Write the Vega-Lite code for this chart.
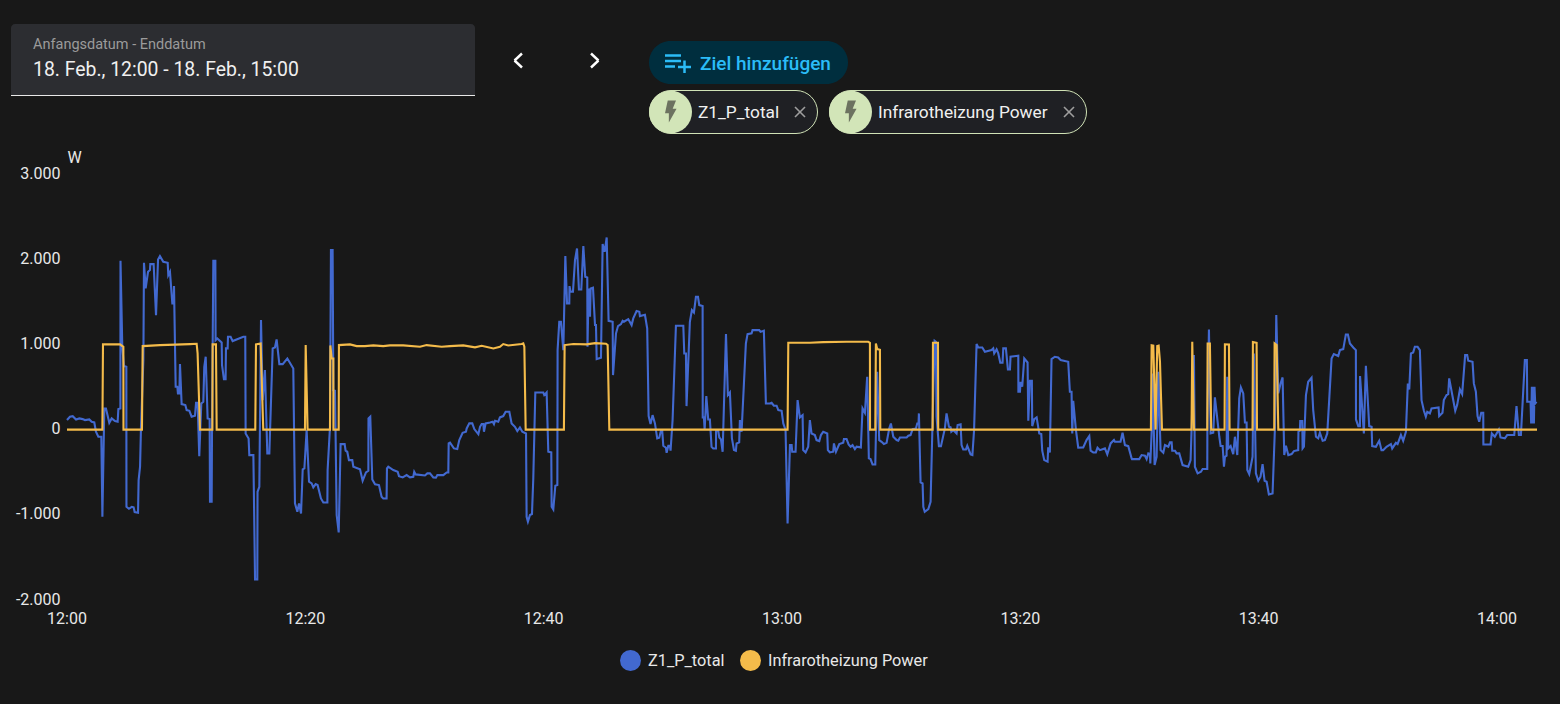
{"$schema":"https://vega.github.io/schema/vega-lite/v6.json","width":1470,"height":426,"autosize":"none","padding":{"left":67,"top":174,"right":23,"bottom":104},"background":"#181818","config":{"view":{"stroke":null},"font":"Roboto"},
"datasets":{
"z1":[{"t":0,"w":112},{"t":0.25,"w":151},{"t":0.48,"w":158},{"t":0.76,"w":119},{"t":1.04,"w":131},{"t":1.31,"w":123},{"t":1.51,"w":112},{"t":1.87,"w":119},{"t":2.07,"w":92},{"t":2.29,"w":84},{"t":2.43,"w":-25},{"t":2.63,"w":-84},{"t":2.88,"w":-84},{"t":2.97,"w":-1023},{"t":3.13,"w":248},{"t":3.27,"w":248},{"t":3.55,"w":80},{"t":3.75,"w":131},{"t":4.03,"w":100},{"t":4.25,"w":92},{"t":4.31,"w":241},{"t":4.48,"w":248},{"t":4.49,"w":1981},{"t":4.64,"w":972},{"t":4.78,"w":745},{"t":4.98,"w":737},{"t":4.99,"w":-906},{"t":5.2,"w":-929},{"t":5.43,"w":-906},{"t":5.59,"w":-913},{"t":5.68,"w":-968},{"t":5.96,"w":-976},{"t":6.01,"w":-593},{"t":6.13,"w":-436},{"t":6.21,"w":33},{"t":6.41,"w":816},{"t":6.46,"w":1958},{"t":6.6,"w":1657},{"t":6.8,"w":1852},{"t":6.96,"w":1872},{"t":6.99,"w":1942},{"t":7.27,"w":1942},{"t":7.47,"w":1344},{"t":7.64,"w":1997},{"t":7.8,"w":2036},{"t":8.08,"w":1970},{"t":8.45,"w":1958},{"t":8.5,"w":1813},{"t":8.64,"w":1852},{"t":8.84,"w":1481},{"t":8.95,"w":1481},{"t":8.98,"w":1684},{"t":9.12,"w":503},{"t":9.26,"w":503},{"t":9.31,"w":425},{"t":9.43,"w":425},{"t":9.48,"w":769},{"t":9.62,"w":299},{"t":9.93,"w":288},{"t":10.04,"w":229},{"t":10.27,"w":221},{"t":10.46,"w":151},{"t":10.74,"w":162},{"t":10.83,"w":315},{"t":10.96,"w":315},{"t":11.1,"w":-311},{"t":11.27,"w":307},{"t":11.44,"w":327},{"t":11.52,"w":737},{"t":11.64,"w":855},{"t":11.8,"w":131},{"t":11.97,"w":123},{"t":12,"w":-847},{"t":12.14,"w":-847},{"t":12.17,"w":33},{"t":12.28,"w":1981},{"t":12.45,"w":1981},{"t":12.47,"w":1050},{"t":12.61,"w":1070},{"t":12.98,"w":1023},{"t":13.01,"w":757},{"t":13.17,"w":593},{"t":13.31,"w":593},{"t":13.34,"w":953},{"t":13.48,"w":953},{"t":13.51,"w":1089},{"t":13.73,"w":1089},{"t":13.9,"w":1039},{"t":14.8,"w":1089},{"t":14.96,"w":1089},{"t":14.99,"w":-45},{"t":15.24,"w":-104},{"t":15.3,"w":-299},{"t":15.64,"w":-299},{"t":15.78,"w":-1758},{"t":15.97,"w":-1758},{"t":15.99,"w":-730},{"t":16.14,"w":-671},{"t":16.28,"w":1285},{"t":16.42,"w":346},{"t":16.61,"w":698},{"t":16.81,"w":-280},{"t":16.98,"w":-280},{"t":17.26,"w":953},{"t":17.45,"w":964},{"t":17.59,"w":1058},{"t":17.82,"w":769},{"t":18.1,"w":769},{"t":18.49,"w":835},{"t":18.99,"w":718},{"t":19.13,"w":-866},{"t":19.33,"w":-964},{"t":19.47,"w":-866},{"t":19.64,"w":-984},{"t":19.78,"w":-467},{"t":19.92,"w":-456},{"t":20.11,"w":-6},{"t":20.31,"w":-612},{"t":20.53,"w":-632},{"t":20.67,"w":-679},{"t":20.87,"w":-640},{"t":21.03,"w":-651},{"t":21.31,"w":-808},{"t":21.51,"w":-855},{"t":21.85,"w":-855},{"t":21.87,"w":-475},{"t":22.07,"w":33},{"t":22.15,"w":2107},{"t":22.29,"w":2107},{"t":22.35,"w":463},{"t":22.49,"w":456},{"t":22.63,"w":-1003},{"t":22.8,"w":-1207},{"t":22.96,"w":-170},{"t":23.3,"w":-170},{"t":23.38,"w":-248},{"t":23.52,"w":-260},{"t":23.66,"w":-358},{"t":23.94,"w":-358},{"t":24.03,"w":-436},{"t":24.59,"w":-467},{"t":24.81,"w":-600},{"t":25.09,"w":-503},{"t":25.29,"w":-483},{"t":25.3,"w":131},{"t":25.45,"w":151},{"t":25.62,"w":-585},{"t":25.85,"w":-643},{"t":26.18,"w":-651},{"t":26.4,"w":-788},{"t":26.54,"w":-808},{"t":26.82,"w":-808},{"t":26.85,"w":-456},{"t":26.96,"w":-436},{"t":27.38,"w":-475},{"t":27.75,"w":-495},{"t":27.86,"w":-546},{"t":28.17,"w":-561},{"t":28.5,"w":-534},{"t":28.78,"w":-561},{"t":29.06,"w":-554},{"t":29.14,"w":-495},{"t":29.26,"w":-526},{"t":30.04,"w":-538},{"t":30.24,"w":-514},{"t":30.46,"w":-514},{"t":30.74,"w":-561},{"t":30.96,"w":-565},{"t":31.08,"w":-534},{"t":31.58,"w":-534},{"t":31.86,"w":-503},{"t":32,"w":-503},{"t":32.03,"w":-162},{"t":32.14,"w":-154},{"t":32.47,"w":-221},{"t":32.75,"w":-229},{"t":32.92,"w":-123},{"t":33.2,"w":-37},{"t":33.48,"w":-25},{"t":33.54,"w":14},{"t":33.76,"w":73},{"t":34.01,"w":73},{"t":34.18,"w":6},{"t":34.52,"w":-53},{"t":34.66,"w":33},{"t":34.8,"w":65},{"t":34.94,"w":65},{"t":34.99,"w":-25},{"t":35.13,"w":73},{"t":35.5,"w":84},{"t":35.72,"w":92},{"t":35.83,"w":65},{"t":35.92,"w":104},{"t":36.19,"w":92},{"t":36.33,"w":143},{"t":36.61,"w":159},{"t":36.81,"w":209},{"t":37.12,"w":209},{"t":37.31,"w":73},{"t":37.59,"w":33},{"t":37.79,"w":-17},{"t":38.01,"w":26},{"t":38.21,"w":-25},{"t":38.52,"w":-45},{"t":38.57,"w":-1023},{"t":38.68,"w":-1081},{"t":38.85,"w":-1003},{"t":39.02,"w":-991},{"t":39.13,"w":-573},{"t":39.3,"w":436},{"t":39.97,"w":436},{"t":40.05,"w":405},{"t":40.25,"w":436},{"t":40.39,"w":-260},{"t":40.64,"w":-268},{"t":40.67,"w":-905},{"t":40.81,"w":-937},{"t":40.98,"w":-659},{"t":41.15,"w":-651},{"t":41.17,"w":933},{"t":41.31,"w":1266},{"t":41.45,"w":1266},{"t":41.65,"w":933},{"t":41.82,"w":2036},{"t":41.96,"w":1481},{"t":42.15,"w":1481},{"t":42.17,"w":1684},{"t":42.26,"w":1618},{"t":42.46,"w":1618},{"t":42.63,"w":1989},{"t":42.8,"w":2126},{"t":42.96,"w":1645},{"t":43.16,"w":1645},{"t":43.33,"w":2154},{"t":43.49,"w":1794},{"t":43.66,"w":1786},{"t":43.68,"w":972},{"t":43.77,"w":1657},{"t":43.89,"w":1324},{"t":43.94,"w":1657},{"t":44.14,"w":1665},{"t":44.31,"w":1227},{"t":44.39,"w":1227},{"t":44.45,"w":828},{"t":44.81,"w":843},{"t":44.95,"w":2177},{"t":45.12,"w":2087},{"t":45.29,"w":2255},{"t":45.45,"w":1277},{"t":45.79,"w":1266},{"t":45.82,"w":640},{"t":46.07,"w":1129},{"t":46.24,"w":1215},{"t":46.49,"w":1238},{"t":46.63,"w":1277},{"t":46.74,"w":1266},{"t":47.1,"w":1297},{"t":47.38,"w":1227},{"t":47.52,"w":1305},{"t":47.8,"w":1391},{"t":48.03,"w":1383},{"t":48.08,"w":1332},{"t":48.5,"w":1348},{"t":48.69,"w":1187},{"t":48.81,"w":159},{"t":48.97,"w":65},{"t":49.14,"w":170},{"t":49.34,"w":72},{"t":49.53,"w":-104},{"t":49.7,"w":-96},{"t":49.84,"w":-13},{"t":49.95,"w":-13},{"t":50.04,"w":-190},{"t":50.26,"w":-213},{"t":50.32,"w":-272},{"t":50.46,"w":-190},{"t":50.6,"w":-190},{"t":50.65,"w":-248},{"t":50.82,"w":112},{"t":51.1,"w":1219},{"t":51.72,"w":1219},{"t":51.8,"w":894},{"t":51.94,"w":894},{"t":51.99,"w":276},{"t":52.27,"w":1266},{"t":52.44,"w":1403},{"t":52.61,"w":1375},{"t":52.78,"w":1559},{"t":52.95,"w":1559},{"t":53.06,"w":1461},{"t":53.34,"w":1450},{"t":53.35,"w":143},{"t":53.45,"w":143},{"t":53.51,"w":-5},{"t":53.65,"w":393},{"t":53.81,"w":119},{"t":53.95,"w":119},{"t":54.09,"w":-201},{"t":54.23,"w":-221},{"t":54.46,"w":-221},{"t":54.47,"w":-13},{"t":54.65,"w":-13},{"t":54.74,"w":-92},{"t":54.88,"w":-115},{"t":55.02,"w":-260},{"t":55.3,"w":1121},{"t":55.46,"w":405},{"t":55.63,"w":436},{"t":55.8,"w":-104},{"t":55.97,"w":-240},{"t":56.13,"w":-248},{"t":56.19,"w":-162},{"t":56.41,"w":-150},{"t":56.47,"w":112},{"t":56.61,"w":-25},{"t":56.97,"w":1011},{"t":57.11,"w":1121},{"t":57.45,"w":1129},{"t":57.53,"w":1168},{"t":58.09,"w":1168},{"t":58.2,"w":1148},{"t":58.48,"w":1160},{"t":58.65,"w":307},{"t":58.99,"w":307},{"t":59.13,"w":315},{"t":59.32,"w":280},{"t":59.55,"w":280},{"t":59.69,"w":229},{"t":59.97,"w":221},{"t":60.11,"w":72},{"t":60.3,"w":-5},{"t":60.47,"w":-1101},{"t":60.67,"w":-182},{"t":60.81,"w":-182},{"t":60.86,"w":-260},{"t":61.14,"w":-260},{"t":61.31,"w":346},{"t":61.5,"w":143},{"t":61.73,"w":170},{"t":61.78,"w":-240},{"t":61.98,"w":-268},{"t":62.2,"w":-201},{"t":62.34,"w":112},{"t":62.48,"w":-45},{"t":62.76,"w":-64},{"t":62.9,"w":-123},{"t":63.13,"w":-135},{"t":63.27,"w":-64},{"t":63.46,"w":-25},{"t":63.8,"w":-45},{"t":63.85,"w":-240},{"t":64.02,"w":-268},{"t":64.3,"w":-260},{"t":64.36,"w":-162},{"t":64.53,"w":-260},{"t":64.81,"w":-170},{"t":65.14,"w":-154},{"t":65.2,"w":-111},{"t":65.42,"w":-111},{"t":65.59,"w":-174},{"t":65.76,"w":-201},{"t":65.92,"w":-182},{"t":66.12,"w":-229},{"t":66.26,"w":-201},{"t":66.62,"w":-209},{"t":66.76,"w":249},{"t":66.96,"w":198},{"t":67.15,"w":620},{"t":67.29,"w":-338},{"t":67.43,"w":-346},{"t":67.6,"w":-409},{"t":67.83,"w":-409},{"t":67.99,"w":679},{"t":68.16,"w":-123},{"t":68.36,"w":-143},{"t":68.55,"w":-170},{"t":68.78,"w":-154},{"t":69,"w":14},{"t":69.14,"w":72},{"t":69.34,"w":-84},{"t":69.62,"w":-123},{"t":69.76,"w":-131},{"t":69.9,"w":-92},{"t":70.46,"w":-92},{"t":70.6,"w":-72},{"t":70.79,"w":-64},{"t":70.96,"w":6},{"t":71.24,"w":14},{"t":71.35,"w":72},{"t":71.46,"w":72},{"t":71.49,"w":190},{"t":71.63,"w":-620},{"t":71.8,"w":-632},{"t":71.86,"w":-906},{"t":71.98,"w":-964},{"t":72.28,"w":-933},{"t":72.47,"w":-847},{"t":72.64,"w":112},{"t":72.81,"w":1043},{"t":72.92,"w":1031},{"t":72.97,"w":151},{"t":73.17,"w":-194},{"t":73.34,"w":-194},{"t":73.67,"w":14},{"t":73.81,"w":190},{"t":74.01,"w":33},{"t":74.15,"w":26},{"t":74.21,"w":-25},{"t":74.37,"w":-6},{"t":74.65,"w":-45},{"t":74.74,"w":53},{"t":74.99,"w":61},{"t":75.07,"w":-182},{"t":75.21,"w":-233},{"t":75.44,"w":-233},{"t":75.55,"w":-190},{"t":75.83,"w":-291},{"t":75.98,"w":-299},{"t":76.12,"w":-6},{"t":76.33,"w":1004},{"t":76.47,"w":964},{"t":76.81,"w":964},{"t":77.03,"w":914},{"t":77.59,"w":933},{"t":77.73,"w":953},{"t":77.81,"w":894},{"t":78.01,"w":941},{"t":78.15,"w":894},{"t":78.32,"w":784},{"t":78.51,"w":784},{"t":78.57,"w":953},{"t":78.79,"w":953},{"t":78.96,"w":706},{"t":79.13,"w":706},{"t":79.18,"w":855},{"t":79.83,"w":867},{"t":79.84,"w":444},{"t":79.97,"w":444},{"t":80.02,"w":562},{"t":80.16,"w":503},{"t":80.33,"w":835},{"t":80.61,"w":788},{"t":80.67,"w":104},{"t":80.81,"w":573},{"t":80.97,"w":573},{"t":81,"w":41},{"t":81.17,"w":123},{"t":81.37,"w":143},{"t":81.59,"w":-45},{"t":81.76,"w":-53},{"t":81.84,"w":-248},{"t":82.01,"w":-358},{"t":82.29,"w":-377},{"t":82.34,"w":-209},{"t":82.48,"w":-268},{"t":82.62,"w":827},{"t":82.9,"w":855},{"t":83.18,"w":847},{"t":83.38,"w":816},{"t":84.02,"w":796},{"t":84.16,"w":444},{"t":84.3,"w":444},{"t":84.36,"w":-45},{"t":84.44,"w":338},{"t":84.67,"w":-6},{"t":84.86,"w":-213},{"t":85.28,"w":-209},{"t":85.56,"w":-123},{"t":85.79,"w":-76},{"t":85.9,"w":-248},{"t":86.12,"w":-268},{"t":86.34,"w":-268},{"t":86.48,"w":-213},{"t":86.68,"w":-241},{"t":87.1,"w":-221},{"t":87.3,"w":-291},{"t":87.58,"w":-162},{"t":87.86,"w":-123},{"t":87.94,"w":-143},{"t":88.41,"w":-143},{"t":88.58,"w":-37},{"t":88.78,"w":-182},{"t":89.06,"w":-194},{"t":89.34,"w":-338},{"t":89.37,"w":-346},{"t":89.98,"w":-346},{"t":90.18,"w":-299},{"t":90.46,"w":-307},{"t":90.6,"w":-346},{"t":90.74,"w":-279},{"t":90.88,"w":-287},{"t":90.91,"w":-397},{"t":91.05,"w":72},{"t":91.1,"w":659},{"t":91.27,"w":-416},{"t":91.44,"w":-319},{"t":91.58,"w":679},{"t":91.77,"w":-240},{"t":92,"w":-272},{"t":92.14,"w":-182},{"t":92.42,"w":-201},{"t":92.56,"w":-150},{"t":92.7,"w":-150},{"t":92.75,"w":-248},{"t":92.98,"w":-248},{"t":93.12,"w":-279},{"t":93.34,"w":-279},{"t":93.62,"w":-416},{"t":94.09,"w":-436},{"t":94.29,"w":-358},{"t":94.37,"w":-5},{"t":94.57,"w":875},{"t":94.65,"w":-436},{"t":94.88,"w":-514},{"t":95.16,"w":-495},{"t":95.3,"w":-463},{"t":95.69,"w":-463},{"t":95.7,"w":112},{"t":95.83,"w":1176},{"t":95.97,"w":-45},{"t":96.19,"w":-37},{"t":96.33,"w":378},{"t":96.7,"w":-84},{"t":96.81,"w":-193},{"t":96.98,"w":-193},{"t":97.09,"w":-436},{"t":97.17,"w":-319},{"t":97.31,"w":-307},{"t":97.37,"w":620},{"t":97.45,"w":-221},{"t":97.65,"w":-193},{"t":97.87,"w":-287},{"t":98.01,"w":-84},{"t":98.21,"w":-299},{"t":98.37,"w":366},{"t":98.51,"w":495},{"t":98.71,"w":425},{"t":98.85,"w":84},{"t":98.99,"w":84},{"t":99.05,"w":-475},{"t":99.21,"w":-522},{"t":99.33,"w":-436},{"t":99.49,"w":-319},{"t":99.6,"w":894},{"t":99.77,"w":-514},{"t":99.97,"w":-600},{"t":100.16,"w":-553},{"t":100.33,"w":-405},{"t":100.5,"w":-600},{"t":100.67,"w":-612},{"t":100.86,"w":-761},{"t":101.17,"w":-749},{"t":101.37,"w":33},{"t":101.48,"w":1344},{"t":101.65,"w":425},{"t":101.84,"w":542},{"t":102.01,"w":612},{"t":102.15,"w":-299},{"t":102.29,"w":-190},{"t":102.49,"w":-299},{"t":102.77,"w":-287},{"t":102.96,"w":-252},{"t":103.32,"w":-240},{"t":103.34,"w":-25},{"t":103.46,"w":-14},{"t":103.49,"w":100},{"t":103.66,"w":100},{"t":103.69,"w":-221},{"t":103.8,"w":-201},{"t":103.97,"w":405},{"t":104.16,"w":562},{"t":104.44,"w":608},{"t":104.58,"w":229},{"t":104.81,"w":-84},{"t":105,"w":-103},{"t":105.14,"w":-37},{"t":105.37,"w":-131},{"t":105.56,"w":-123},{"t":105.76,"w":-45},{"t":106.12,"w":835},{"t":106.31,"w":886},{"t":106.68,"w":863},{"t":106.82,"w":933},{"t":107.1,"w":945},{"t":107.32,"w":1117},{"t":107.49,"w":1117},{"t":107.66,"w":1011},{"t":107.94,"w":964},{"t":108.16,"w":933},{"t":108.17,"w":119},{"t":108.36,"w":41},{"t":108.5,"w":41},{"t":108.51,"w":628},{"t":108.83,"w":-45},{"t":109,"w":749},{"t":109.28,"w":41},{"t":109.48,"w":33},{"t":109.53,"w":-194},{"t":109.84,"w":-201},{"t":110.12,"w":-131},{"t":110.31,"w":-241},{"t":110.45,"w":-241},{"t":110.73,"w":-201},{"t":111.1,"w":-170},{"t":111.21,"w":-221},{"t":111.52,"w":-155},{"t":111.66,"w":-170},{"t":111.94,"w":-64},{"t":112.13,"w":-131},{"t":112.36,"w":-25},{"t":112.52,"w":542},{"t":112.64,"w":471},{"t":112.78,"w":894},{"t":112.97,"w":906},{"t":113.11,"w":972},{"t":113.34,"w":972},{"t":113.53,"w":933},{"t":113.67,"w":346},{"t":113.87,"w":221},{"t":114.03,"w":151},{"t":114.15,"w":209},{"t":114.37,"w":190},{"t":114.51,"w":249},{"t":115.1,"w":260},{"t":115.15,"w":159},{"t":115.43,"w":198},{"t":115.54,"w":346},{"t":115.77,"w":405},{"t":115.91,"w":417},{"t":115.99,"w":601},{"t":116.5,"w":221},{"t":116.66,"w":288},{"t":116.89,"w":471},{"t":117.08,"w":417},{"t":117.33,"w":874},{"t":117.5,"w":874},{"t":117.59,"w":808},{"t":117.95,"w":796},{"t":118.06,"w":542},{"t":118.23,"w":444},{"t":118.37,"w":159},{"t":118.51,"w":92},{"t":118.68,"w":198},{"t":118.85,"w":198},{"t":118.86,"w":-174},{"t":119.46,"w":-174},{"t":119.57,"w":-45},{"t":119.82,"w":-84},{"t":120.16,"w":2},{"t":120.3,"w":-92},{"t":120.66,"w":-103},{"t":120.86,"w":-64},{"t":121.45,"w":-64},{"t":121.64,"w":276},{"t":121.84,"w":-64},{"t":122.01,"w":-64},{"t":122.34,"w":816},{"t":122.51,"w":816},{"t":122.54,"w":327},{"t":122.82,"w":327},{"t":122.87,"w":72},{"t":122.93,"w":503},{"t":122.98,"w":72},{"t":123.04,"w":503},{"t":123.1,"w":72},{"t":123.15,"w":503},{"t":123.21,"w":307},{"t":123.32,"w":327}],
"infra":[{"t":0,"w":0},{"t":2.97,"w":0},{"t":3.02,"w":1000},{"t":4.45,"w":1000},{"t":4.73,"w":972},{"t":4.74,"w":0},{"t":6.29,"w":0},{"t":6.35,"w":980},{"t":7.8,"w":992},{"t":10.32,"w":1003},{"t":10.88,"w":1007},{"t":10.96,"w":894},{"t":11.16,"w":0},{"t":12.2,"w":0},{"t":12.22,"w":1000},{"t":12.5,"w":1000},{"t":12.56,"w":0},{"t":15.8,"w":0},{"t":15.86,"w":1000},{"t":16.25,"w":1011},{"t":16.47,"w":0},{"t":19.97,"w":0},{"t":20.03,"w":992},{"t":20.19,"w":0},{"t":22.07,"w":0},{"t":22.1,"w":988},{"t":22.21,"w":835},{"t":22.35,"w":835},{"t":22.36,"w":0},{"t":22.8,"w":0},{"t":22.82,"w":992},{"t":23.75,"w":1000},{"t":24.31,"w":980},{"t":25,"w":980},{"t":25.71,"w":988},{"t":26.54,"w":980},{"t":27.1,"w":988},{"t":28.22,"w":988},{"t":29.62,"w":972},{"t":30.18,"w":992},{"t":31.44,"w":972},{"t":32.14,"w":980},{"t":33.26,"w":988},{"t":34.24,"w":965},{"t":34.8,"w":984},{"t":35.78,"w":953},{"t":36.33,"w":972},{"t":36.61,"w":1004},{"t":37.03,"w":988},{"t":38.15,"w":1004},{"t":38.29,"w":1011},{"t":38.38,"w":972},{"t":38.49,"w":0},{"t":41.7,"w":0},{"t":41.76,"w":992},{"t":42.49,"w":1004},{"t":43.61,"w":1000},{"t":44.31,"w":1015},{"t":45.23,"w":1008},{"t":45.37,"w":992},{"t":45.51,"w":0},{"t":60.47,"w":0},{"t":60.53,"w":1019},{"t":62.34,"w":1019},{"t":63.46,"w":1027},{"t":65.42,"w":1031},{"t":67.24,"w":1031},{"t":67.38,"w":1019},{"t":67.39,"w":0},{"t":67.83,"w":0},{"t":67.88,"w":1011},{"t":67.99,"w":945},{"t":68.22,"w":937},{"t":68.25,"w":0},{"t":72.64,"w":0},{"t":72.67,"w":1019},{"t":73.09,"w":1019},{"t":73.11,"w":0},{"t":90.96,"w":0},{"t":91.02,"w":990},{"t":91.16,"w":985},{"t":91.35,"w":0},{"t":91.49,"w":980},{"t":91.61,"w":985},{"t":91.72,"w":800},{"t":91.89,"w":0},{"t":94.37,"w":0},{"t":94.43,"w":1031},{"t":94.57,"w":0},{"t":95.69,"w":0},{"t":95.72,"w":1011},{"t":95.91,"w":1011},{"t":96.02,"w":0},{"t":97.14,"w":0},{"t":97.17,"w":1002},{"t":97.51,"w":1000},{"t":97.56,"w":0},{"t":99.49,"w":0},{"t":99.52,"w":1027},{"t":99.83,"w":1019},{"t":99.86,"w":0},{"t":101.31,"w":0},{"t":101.34,"w":1011},{"t":101.51,"w":992},{"t":101.65,"w":0},{"t":123.36,"w":0}]
},
"resolve":{"scale":{"x":"independent","y":"independent"}},
"layer":[
{"encoding":{"x":{"field":"x","type":"quantitative","scale":{"domain":[67,1537],"nice":false,"zero":false},"axis":null},"y":{"field":"y","type":"quantitative","scale":{"domain":[600,174],"nice":false,"zero":false},"axis":null}},
"layer":[
{"data":{"values":[{"x":11,"x2":475,"y":24,"y2":95}]},"mark":{"type":"rect","fill":"#2c2d31","cornerRadiusTopLeft":4,"cornerRadiusTopRight":4},"encoding":{"x2":{"field":"x2"},"y2":{"field":"y2"}}},
{"data":{"values":[{"x":11,"x2":475,"y":95.5,"y2":95.5}]},"mark":{"type":"rule","stroke":"#e8e8e8","strokeWidth":1},"encoding":{"x2":{"field":"x2"},"y2":{"field":"y2"}}},
{"data":{"values":[{"x":649,"x2":848,"y":41,"y2":84}]},"mark":{"type":"rect","fill":"#002e3e","cornerRadius":21.5},"encoding":{"x2":{"field":"x2"},"y2":{"field":"y2"}}},
{"data":{"values":[{"x":649.5,"x2":817.5,"y":90.5,"y2":133.5},{"x":829.5,"x2":1086.5,"y":90.5,"y2":133.5}]},"mark":{"type":"rect","fill":"#1f2024","stroke":"#d0e2b6","strokeWidth":1,"cornerRadius":21.5},"encoding":{"x2":{"field":"x2"},"y2":{"field":"y2"}}},
{"data":{"values":[{"x":670.5,"y":112},{"x":850.5,"y":112}]},"mark":{"type":"point","filled":true,"shape":"circle","size":1849,"fill":"#d2e5b8","opacity":1,"strokeWidth":0}},
{"data":{"values":[{"x":670.5,"y":111.5},{"x":850.5,"y":111.5}]},"mark":{"type":"point","filled":true,"shape":"M-0.25,-1 L0.5,-1 L0.2,-0.25 L0.55,-0.25 L-0.15,1 L-0.15,0.15 L-0.5,0.15 Z","size":484,"fill":"#6c7260","opacity":1,"strokeWidth":0}},
{"data":{"values":[{"x":522,"y":53.5,"x2":514.5,"y2":60.5},{"x":514.5,"y":60.5,"x2":522,"y2":67.5},{"x":591,"y":53.5,"x2":598.5,"y2":60.5},{"x":598.5,"y":60.5,"x2":591,"y2":67.5}]},"mark":{"type":"rule","stroke":"#ffffff","strokeWidth":2.4},"encoding":{"x2":{"field":"x2"},"y2":{"field":"y2"}}},
{"data":{"values":[{"x":665,"y":55.5,"x2":681,"y2":55.5},{"x":665,"y":61,"x2":681,"y2":61},{"x":665,"y":66.5,"x2":675,"y2":66.5},{"x":678,"y":67,"x2":691,"y2":67},{"x":684.5,"y":60.5,"x2":684.5,"y2":73}]},"mark":{"type":"rule","stroke":"#2bbcf7","strokeWidth":2.5},"encoding":{"x2":{"field":"x2"},"y2":{"field":"y2"}}},
{"data":{"values":[{"x":795,"y":107,"x2":805,"y2":117},{"x":795,"y":117,"x2":805,"y2":107},{"x":1064,"y":107,"x2":1074,"y2":117},{"x":1064,"y":117,"x2":1074,"y2":107}]},"mark":{"type":"rule","stroke":"#9e9e9e","strokeWidth":1.6},"encoding":{"x2":{"field":"x2"},"y2":{"field":"y2"}}},
{"data":{"values":[{"x":33,"y":44.5,"label":"Anfangsdatum - Enddatum"}]},"mark":{"type":"text","align":"left","baseline":"middle","font":"Roboto","fontSize":14.5,"fill":"#9b9b9b"},"encoding":{"text":{"field":"label"}}},
{"data":{"values":[{"x":33,"y":70,"label":"18. Feb., 12:00 - 18. Feb., 15:00"}]},"mark":{"type":"text","align":"left","baseline":"middle","font":"Roboto","fontSize":19.4,"fill":"#f0f0f0"},"encoding":{"text":{"field":"label"}}},
{"data":{"values":[{"x":700,"y":63.5,"label":"Ziel hinzufügen"}]},"mark":{"type":"text","align":"left","baseline":"middle","font":"Roboto","fontSize":19,"fontWeight":500,"fill":"#2bbcf7"},"encoding":{"text":{"field":"label"}}},
{"data":{"values":[{"x":698,"y":112.5,"label":"Z1_P_total"},{"x":878,"y":112.5,"label":"Infrarotheizung Power"}]},"mark":{"type":"text","align":"left","baseline":"middle","font":"Roboto","fontSize":17.3,"fill":"#f0f0f0"},"encoding":{"text":{"field":"label"}}}
]},
{"encoding":{"x":{"field":"t","type":"quantitative","title":null,"scale":{"domain":[0,123.36],"nice":false,"zero":false},"axis":{"values":[0,20,40,60,80,100,120],"labelExpr":"(12+floor(datum.value/60))+':'+(datum.value%60==0?'00':datum.value%60)","grid":false,"ticks":false,"domain":false,"labelPadding":10,"labelFontSize":16,"labelColor":"#e8e8e8","labelFont":"Roboto","labelFlush":false,"labelOverlap":false,"labelOffset":-0.5}},"y":{"field":"w","type":"quantitative","scale":{"domain":[-2000,3000],"nice":false,"zero":false},"axis":{"values":[-2000,-1000,0,1000,2000,3000],"labelExpr":"(datum.value<0?'-':'')+replace(format(abs(datum.value),','),',','.')","title":"W","titleAngle":0,"titleX":0,"titleY":-17,"titleAlign":"left","titleBaseline":"middle","titleFontSize":16,"titleFontWeight":400,"titleColor":"#e8e8e8","titleFont":"Roboto","grid":false,"ticks":false,"domain":false,"labelPadding":7,"labelOffset":-1,"labelFontSize":16,"labelColor":"#e8e8e8","labelFont":"Roboto"}},"color":{"type":"nominal","scale":{"domain":["Z1_P_total","Infrarotheizung Power"],"range":["#4269d0","#f4bb4a"]},"legend":{"title":null,"orient":"none","legendX":553,"legendY":476,"direction":"horizontal","columns":2,"symbolType":"circle","symbolSize":441,"symbolStrokeWidth":0,"labelFontSize":16.3,"labelColor":"#e8e8e8","labelFont":"Roboto","labelOffset":7,"columnPadding":15,"encode":{"symbols":{"update":{"fill":{"scale":"color","field":"value"},"opacity":{"value":1}}}}}}},
"layer":[
{"data":{"name":"z1"},"mark":{"type":"line","strokeWidth":2.1,"interpolate":"linear"},"encoding":{"color":{"datum":"Z1_P_total"}}},
{"data":{"name":"infra"},"mark":{"type":"line","strokeWidth":2.1,"interpolate":"linear"},"encoding":{"color":{"datum":"Infrarotheizung Power"}}}
]}
]}
